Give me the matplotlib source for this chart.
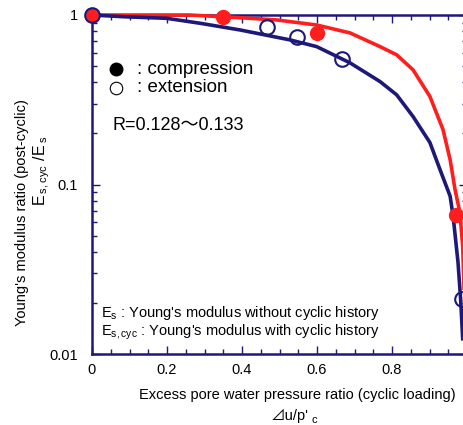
import numpy as np
import matplotlib
matplotlib.use('Agg')
import matplotlib.pyplot as plt
from matplotlib.ticker import FixedLocator, MultipleLocator, LogLocator, NullFormatter

plt.rcParams['font.family'] = ['Liberation Sans', 'Noto Sans CJK JP', 'DejaVu Sans']
plt.rcParams['mathtext.fontset'] = 'custom'
plt.rcParams['mathtext.rm'] = 'Liberation Sans'

# fitted curves
curva_comp_x = [0.0, 0.26, 0.395, 0.4925, 0.599, 0.688, 0.768, 0.8125, 0.856,
                0.901, 0.936, 0.955, 0.968, 0.981, 0.9885, 0.995]
curva_comp_y = [1.0, 1.0, 0.964, 0.935, 0.873, 0.784, 0.651, 0.582, 0.475,
                0.331, 0.211, 0.140, 0.0935, 0.0685, 0.0434, 0.015]

curva_ext_x = [0.0, 0.083, 0.199, 0.288, 0.395, 0.528, 0.599, 0.688, 0.768,
               0.8125, 0.856, 0.901, 0.928, 0.955, 0.963, 0.976, 0.983, 0.9885]
curva_ext_y = [1.0, 0.977, 0.956, 0.894, 0.816, 0.713, 0.651, 0.522, 0.405,
               0.338, 0.252, 0.177, 0.1225, 0.0853, 0.065, 0.0348, 0.0211, 0.0123]

# measured points
comp_x = [0.0, 0.35, 0.6, 0.97]
comp_y = [1.0, 0.97, 0.78, 0.066]

ext_x = [0.0, 0.467, 0.546, 0.666, 0.986]
ext_y = [1.0, 0.85, 0.74, 0.55, 0.021]

x_ticks = [0.0, 0.2, 0.4, 0.6, 0.8]
x_tick_labels = ['0', '0.2', '0.4', '0.6', '0.8']
y_ticks = [0.01, 0.1, 1.0]
y_tick_labels = ['0.01', '0.1', '1']

AZUL = '#1e1878'
VERMELHO = '#ff1e1e'

W, H = 463, 425
fig = plt.figure(figsize=(W / 100, H / 100), dpi=100)
ax = fig.add_axes([92 / W, 1 - 354 / H, (467 - 92) / W, (354 - 15) / H])

ax.plot(curva_comp_x, curva_comp_y, color=VERMELHO, linewidth=2.6, clip_on=False, zorder=3)
ax.plot(curva_ext_x, curva_ext_y, color=AZUL, linewidth=2.6, clip_on=False, zorder=3)
ax.plot(comp_x, comp_y, 'o', color=VERMELHO, markersize=10, clip_on=False, zorder=4)
ax.plot(ext_x, ext_y, 'o', markerfacecolor='none', markeredgecolor=AZUL,
        markeredgewidth=1.5, markersize=10.5, clip_on=False, zorder=5)

ax.set_yscale('log')
ax.set_xlim(0, 1)
ax.set_ylim(0.01, 1)

ax.xaxis.set_major_locator(FixedLocator(x_ticks))
ax.set_xticklabels(x_tick_labels)
ax.xaxis.set_minor_locator(MultipleLocator(0.05))
ax.yaxis.set_major_locator(FixedLocator(y_ticks))
ax.set_yticklabels(y_tick_labels)
ax.yaxis.set_minor_locator(LogLocator(base=10, subs=np.arange(2, 10)))
ax.yaxis.set_minor_formatter(NullFormatter())

for lado in ax.spines.values():
    lado.set_color(AZUL)
    lado.set_linewidth(1.8)

ax.tick_params(which='both', direction='in', top=True, right=True, color=AZUL, width=1.0)
ax.tick_params(which='major', length=5.5)
ax.tick_params(which='minor', length=3.5)
ax.tick_params(axis='y', which='major', pad=10, labelsize=10.5)
ax.tick_params(axis='x', which='major', pad=6.5, labelsize=10.5)

# text placed by pixel position in the figure
def px(x, y):
    return x / W, 1 - y / H

ax.plot(*px(116, 69), 'o', color='black', markersize=9, transform=fig.transFigure, clip_on=False)
ax.plot(*px(116, 88), 'o', markerfacecolor='white', markeredgecolor='black',
        markeredgewidth=0.8, markersize=9, transform=fig.transFigure, clip_on=False)
fig.text(*px(137, 69), ': compression', fontsize=13.5, va='center', ha='left')
fig.text(*px(137, 88), ': extension', fontsize=13.5, va='center', ha='left')
fig.text(*px(112, 126), 'R=0.128〜0.133', fontsize=13, va='center', ha='left')

fig.text(*px(101, 313), r"$\mathregular{E_s}$ : Young's modulus without cyclic history",
         fontsize=10.5, va='center', ha='left')
fig.text(*px(101, 332), r"$\mathregular{E_{s,cyc}}$ : Young's modulus with cyclic history",
         fontsize=10.5, va='center', ha='left')

fig.text(*px(22, 213), "Young's modulus ratio (post-cyclic)", fontsize=10.5,
         rotation=90, va='center', ha='center')
fig.text(*px(42, 171), r"$\mathregular{E_{\,s,cyc}\ /E_{\,s}}$", fontsize=11.5,
         rotation=90, va='center', ha='center')

fig.text(*px(297, 395), 'Excess pore water pressure ratio (cyclic loading)',
         fontsize=10.5, va='center', ha='center')
fig.text(*px(309, 416), "⊿u/p'", fontsize=10.5, va='center', ha='right')
fig.text(*px(311, 420), 'c', fontsize=8, va='center', ha='left')

fig.savefig('out.png', dpi=100)
